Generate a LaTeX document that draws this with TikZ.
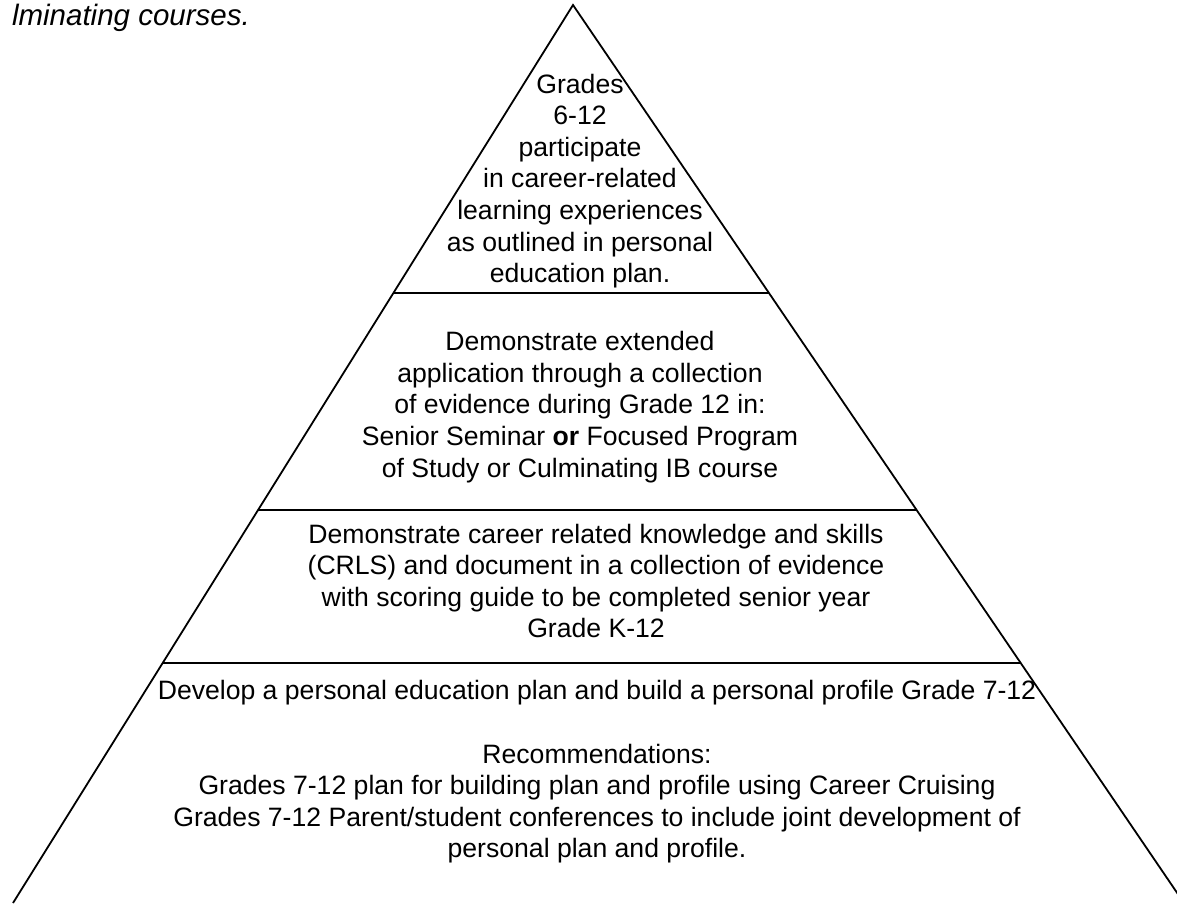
\documentclass[tikz,border=0pt]{standalone}
\usepackage{fontspec}
\setmainfont{Liberation Sans}
\usetikzlibrary{calc}

\begin{document}
\begin{tikzpicture}[
    x=1pt, y=-1pt,
    tier/.style={
        align=center,
        inner sep=0pt,
        font=\fontsize{26.6}{31.6}\selectfont
    },
    side/.style={line width=1.8pt},
    divider/.style={line width=2pt}
]
\useasboundingbox (0,0) rectangle (1177,903);
\clip (0,0) rectangle (1177,903);

% pyramid outline
\coordinate (apex) at (573,5);
\coordinate (left) at (13,903);
\coordinate (right) at (1184,903);
\draw[side] (left) -- (apex) -- (right);

% tier dividers
\draw[divider] ($(apex)!0.3207!(left)$) -- ($(apex)!0.3207!(right)$);
\draw[divider] ($(apex)!0.5624!(left)$) -- ($(apex)!0.5624!(right)$);
\draw[divider] ($(apex)!0.7327!(left)$) -- ($(apex)!0.7327!(right)$);

\node[anchor=base east, inner sep=0pt, font=\fontsize{29.5}{34}\selectfont\itshape] (caption) at (250,25) {lminating courses.};

\node[tier] (peak) at (580,181) {Grades\\6-12\\participate\\in career-related\\learning experiences\\as outlined in personal\\education plan.};
\node[tier] (upper) at (580,407) {Demonstrate extended\\application through a collection\\of evidence during Grade 12 in:\\Senior Seminar \textbf{or} Focused Program\\of Study or Culminating IB course};
\node[tier] (lower) at (596,581) {Demonstrate career related knowledge and skills\\(CRLS) and document in a collection of evidence\\with scoring guide to be completed senior year\\Grade K-12};
\node[tier] (base) at (597,772) {Develop a personal education plan and build a personal profile Grade 7-12\\[31.6pt]Recommendations:\\Grades 7-12 plan for building plan and profile using Career Cruising\\Grades 7-12 Parent/student conferences to include joint development of\\personal plan and profile.};

\end{tikzpicture}
\end{document}
